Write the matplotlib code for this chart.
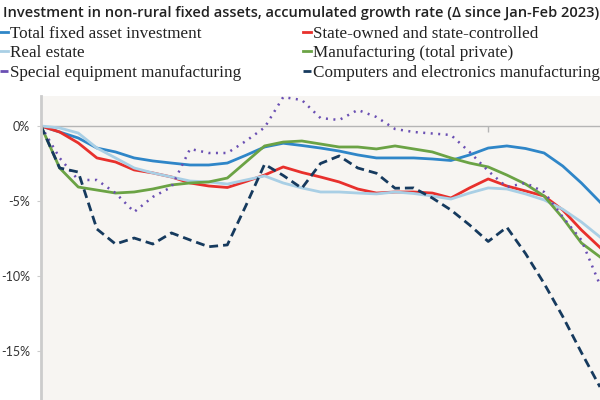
import matplotlib
matplotlib.use("Agg")
import matplotlib.pyplot as plt
from matplotlib.lines import Line2D

# months since Jan-Feb 2023 (index), values in % points
months = list(range(31))
total_fai = [0, -0.4, -0.8, -1.47, -1.73, -2.13, -2.33, -2.47, -2.6, -2.6, -2.47, -1.95, -1.4, -1.15, -1.3,
             -1.47, -1.67, -1.93, -2.13, -2.13, -2.13, -2.2, -2.3, -1.93, -1.47, -1.33, -1.5, -1.8, -2.67, -3.8, -5.07]
state_owned = [0, -0.4, -1.13, -2.13, -2.4, -2.93, -3.13, -3.4, -3.8, -4.0, -4.1, -3.7, -3.27, -2.73, -3.1,
               -3.4, -3.73, -4.2, -4.47, -4.4, -4.4, -4.47, -4.8, -4.13, -3.53, -4.0, -4.33, -4.67, -5.6, -6.93, -8.1]
real_estate = [0, -0.13, -0.47, -1.47, -2.13, -2.8, -3.13, -3.4, -3.67, -3.73, -3.87, -3.6, -3.33, -3.8, -4.13,
               -4.4, -4.4, -4.47, -4.53, -4.4, -4.5, -4.67, -4.87, -4.47, -4.13, -4.2, -4.53, -4.93, -5.55, -6.4, -7.4]
manufacturing = [0, -2.8, -4.07, -4.27, -4.47, -4.4, -4.2, -3.93, -3.8, -3.73, -3.47, -2.4, -1.33, -1.07, -1.0,
                 -1.2, -1.4, -1.4, -1.53, -1.33, -1.53, -1.73, -2.13, -2.47, -2.73, -3.27, -3.87, -4.67, -6.13, -7.8, -8.73]
special_equip = [0, -2.13, -3.6, -3.6, -4.47, -5.73, -4.73, -4.07, -1.53, -1.8, -1.8, -1.0, -0.1, 1.93, 1.73,
                 0.53, 0.4, 1.07, 0.6, -0.2, -0.4, -0.5, -0.6, -1.73, -3.0, -4.07, -3.8, -4.4, -6.07, -7.6, -10.6]
computers = [0, -2.8, -3.07, -6.87, -7.87, -7.47, -7.87, -7.13, -7.6, -8.05, -7.93, -5.3, -2.55, -3.3, -4.15,
             -2.5, -2.0, -2.8, -3.15, -4.15, -4.13, -4.8, -5.6, -6.6, -7.7, -6.75, -8.5, -10.5, -12.7, -15.1, -17.4]

yticks = [0, -5, -10, -15]
ytick_labels = ["0%", "-5%", "-10%", "-15%"]

series = [
    ("Total fixed asset investment", total_fai, "#2f86c8", "-"),
    ("State-owned and state-controlled", state_owned, "#e8302c", "-"),
    ("Real estate", real_estate, "#a9cfe5", "-"),
    ("Manufacturing (total private)", manufacturing, "#6ba345", "-"),
    ("Special equipment manufacturing", special_equip, "#6a4fb3", ":"),
    ("Computers and electronics manufacturing", computers, "#163a5e", "--"),
]

fig = plt.figure(figsize=(6, 4), dpi=100)
ax = fig.add_axes([41 / 600, 0, 559 / 600, 304 / 400])
ax.set_facecolor("#f7f5f2")

handles = []
for name, vals, color, ls in series:
    if ls == "--":
        line, = ax.plot(months, vals, color=color, lw=2.0, dashes=(3.2, 1.8), label=name)
    elif ls == ":":
        line, = ax.plot(months, vals, color=color, lw=1.8, dashes=(0.8, 2.2), label=name)
    else:
        line, = ax.plot(months, vals, color=color, lw=2.0, label=name)
    handles.append(line)

ax.set_xlim(0, 30)
ax.set_ylim(-18.27, 2.0)

# zero line as bottom spine with one tick
ax.spines["bottom"].set_position(("data", 0))
ax.spines["bottom"].set_color("#b5b5b5")
ax.spines["bottom"].set_linewidth(1.0)
ax.spines["bottom"].set_zorder(0.5)
ax.spines["top"].set_visible(False)
ax.spines["right"].set_visible(False)
ax.spines["left"].set_color("#cccccc")
ax.spines["left"].set_linewidth(2.0)
ax.set_xticks([24])
ax.set_xticklabels([""])
ax.tick_params(axis="x", length=4, width=1, color="#b5b5b5", direction="out")

ax.set_yticks(yticks)
ax.set_yticklabels(ytick_labels, fontfamily="Lato", fontsize=9, color="#333333")
ax.tick_params(axis="y", length=3, width=0.8, color="#cccccc", pad=5)

fig.text(0.005, 0.967, "Investment in non-rural fixed assets, accumulated growth rate (\u0394 since Jan-Feb 2023)",
         fontfamily="Open Sans", fontweight="semibold", fontsize=10.5, color="#222222", va="center", ha="left")

def legend_handle(h):
    return Line2D([0], [0], color=h.get_color(), lw=2.0, linestyle=h.get_linestyle())

col1 = [handles[0], handles[2], handles[4]]
col2 = [handles[1], handles[3], handles[5]]
for cols, x0 in [(col1, -0.005), (col2, 0.500)]:
    leg = fig.legend([legend_handle(h) for h in cols], [h.get_label() for h in cols],
                     loc="upper left", bbox_to_anchor=(x0, 0.944), frameon=False,
                     prop={"family": "Liberation Serif", "size": 12.3},
                     handlelength=0.42, handletextpad=0.15, labelspacing=0.2,
                     borderaxespad=0, borderpad=0.2)
    for t in leg.get_texts():
        t.set_color("#222222")

fig.savefig("out.png", dpi=100, facecolor="white")
